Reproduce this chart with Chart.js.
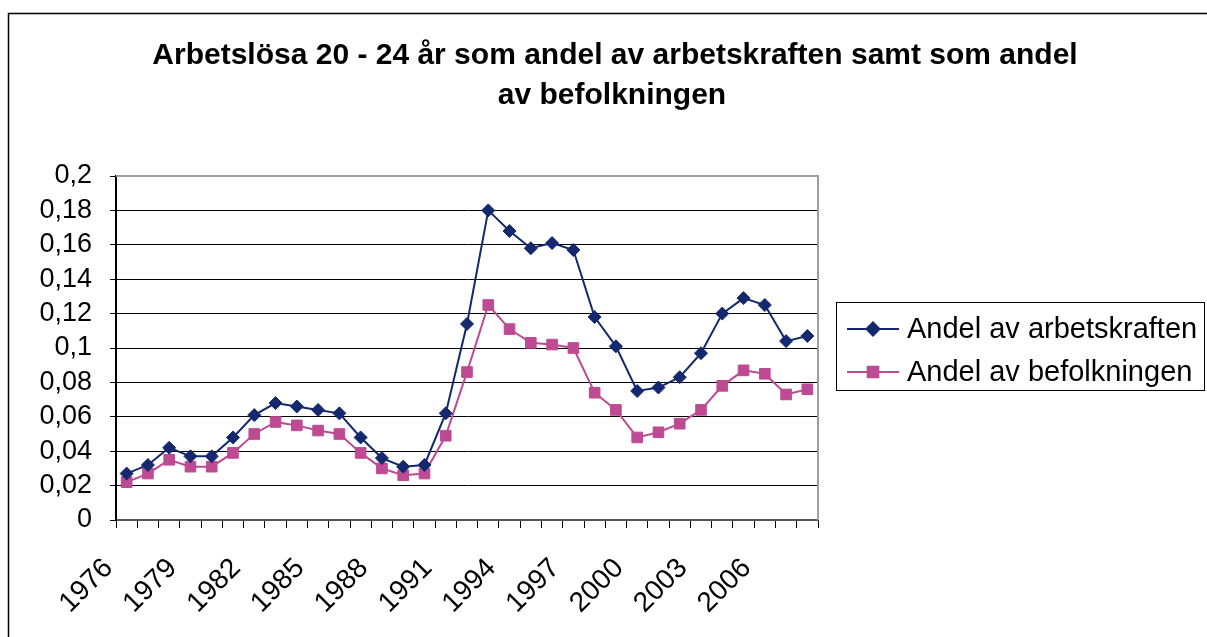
<!DOCTYPE html>
<html>
<head>
<meta charset="utf-8">
<script src="https://cdn.jsdelivr.net/npm/chart.js@4.4.1/dist/chart.umd.min.js"></script>
<style>
  html, body { margin: 0; padding: 0; background: #fff; }
  #wrap { width: 1207px; height: 637px; }
</style>
</head>
<body>
<div id="wrap"><canvas id="chart" width="1207" height="637"></canvas></div>
<script>
// Data
const years = ['1976', '1977', '1978', '1979', '1980', '1981', '1982', '1983', '1984', '1985', '1986',
    '1987', '1988', '1989', '1990', '1991', '1992', '1993', '1994', '1995', '1996', '1997', '1998',
    '1999', '2000', '2001', '2002', '2003', '2004', '2005', '2006', '2007', '2008'];
const shownYears = ['1976', '1979', '1982', '1985', '1988', '1991', '1994', '1997', '2000', '2003', '2006'];

const andelArbetskraften = [0.027, 0.032, 0.042, 0.037, 0.037, 0.048, 0.061, 0.068, 0.066, 0.064, 0.062,
    0.048, 0.036, 0.031, 0.032, 0.062, 0.114, 0.180, 0.168, 0.158, 0.161, 0.157, 0.118,
    0.101, 0.075, 0.077, 0.083, 0.097, 0.120, 0.129, 0.125, 0.104, 0.107];
const andelBefolkningen = [0.022, 0.027, 0.035, 0.031, 0.031, 0.039, 0.050, 0.057, 0.055, 0.052, 0.050,
    0.039, 0.030, 0.026, 0.027, 0.049, 0.086, 0.125, 0.111, 0.103, 0.102, 0.100, 0.074,
    0.064, 0.048, 0.051, 0.056, 0.064, 0.078, 0.087, 0.085, 0.073, 0.076];

const titleLines = ['Arbetslösa 20 - 24 år som andel av arbetskraften samt som andel', 'av befolkningen'];

const navy = '#14286e';
const pink = '#bd4a92';
const fontFamily = "'Liberation Sans', Arial, sans-serif";

// Title, outer frame, plot border and the boxed legend (Excel style)
const decorPlugin = {
    id: 'decor',
    afterDraw(chart) {
        const ctx = chart.ctx;
        const area = chart.chartArea;
        ctx.save();

        // outer frame
        ctx.strokeStyle = '#000';
        ctx.lineWidth = 1.5;
        ctx.strokeRect(8.5, 13.5, 1400, 800);

        // plot area border (top + right)
        ctx.strokeStyle = '#a0a0a0';
        ctx.lineWidth = 2;
        ctx.beginPath();
        ctx.moveTo(area.left, area.top);
        ctx.lineTo(area.right, area.top);
        ctx.lineTo(area.right, area.bottom);
        ctx.stroke();

        // title
        ctx.fillStyle = '#000';
        ctx.font = 'bold 30px ' + fontFamily;
        ctx.textAlign = 'center';
        ctx.textBaseline = 'alphabetic';
        ctx.fillText(titleLines[0], 615, 64);
        ctx.fillText(titleLines[1], 612, 104);

        // legend
        ctx.strokeStyle = '#000';
        ctx.lineWidth = 1;
        ctx.strokeRect(836.5, 302.5, 368, 88);
        const rows = [329, 372];
        chart.data.datasets.forEach((ds, i) => {
            const y = rows[i];
            ctx.strokeStyle = ds.borderColor;
            ctx.lineWidth = 2;
            ctx.beginPath();
            ctx.moveTo(847, y);
            ctx.lineTo(899, y);
            ctx.stroke();
            ctx.fillStyle = ds.backgroundColor;
            Chart.helpers.drawPoint(ctx, {
                pointStyle: ds.pointStyle, radius: ds.pointRadius, borderWidth: 1, rotation: 0
            }, 873, y);
            ctx.fillStyle = '#000';
            ctx.font = '29px ' + fontFamily;
            ctx.textAlign = 'left';
            ctx.textBaseline = 'middle';
            ctx.fillText(ds.label, 907, y + 1);
        });
        ctx.restore();
    }
};

const ctx = document.getElementById('chart').getContext('2d');
const chart = new Chart(ctx, {
    type: 'line',
    data: {
        labels: years,
        datasets: [{
            label: 'Andel av arbetskraften',
            data: andelArbetskraften,
            borderColor: navy,
            backgroundColor: navy,
            borderWidth: 2,
            pointStyle: 'rectRot',
            pointRadius: 6.5,
            pointBorderWidth: 1,
            tension: 0
        }, {
            label: 'Andel av befolkningen',
            data: andelBefolkningen,
            borderColor: pink,
            backgroundColor: pink,
            borderWidth: 2,
            pointStyle: 'rect',
            pointRadius: 7.5,
            pointBorderWidth: 1,
            tension: 0
        }]
    },
    options: {
        responsive: false,
        animation: false,
        devicePixelRatio: 1,
        layout: {
            padding: { left: 8, top: 176, right: 389, bottom: 0 }
        },
        plugins: {
            legend: { display: false },
            title: { display: false },
            tooltip: { enabled: false }
        },
        scales: {
            x: {
                offset: true,
                grid: {
                    offset: true,
                    drawOnChartArea: false,
                    tickLength: 8,
                    color: '#000'
                },
                border: { color: '#555', width: 2 },
                ticks: {
                    autoSkip: false,
                    maxRotation: 45,
                    minRotation: 45,
                    padding: 24,
                    labelOffset: -18,
                    color: '#000',
                    font: { family: fontFamily, size: 28 },
                    callback: function (value, index) {
                        const label = years[index];
                        return shownYears.includes(label) ? label : '';
                    }
                },
                afterFit: function (scale) { scale.height = 117; }
            },
            y: {
                min: 0,
                max: 0.2,
                grid: {
                    color: '#000',
                    lineWidth: 1,
                    tickLength: 6
                },
                border: { color: '#000', width: 2 },
                ticks: {
                    autoSkip: false,
                    stepSize: 0.02,
                    padding: 18,
                    color: '#000',
                    font: { family: fontFamily, size: 27 },
                    callback: function (value) {
                        return String(Math.round(value * 100) / 100).replace('.', ',');
                    }
                },
                afterFit: function (scale) { scale.width = 108; }
            }
        }
    },
    plugins: [decorPlugin]
});
</script>
</body>
</html>
